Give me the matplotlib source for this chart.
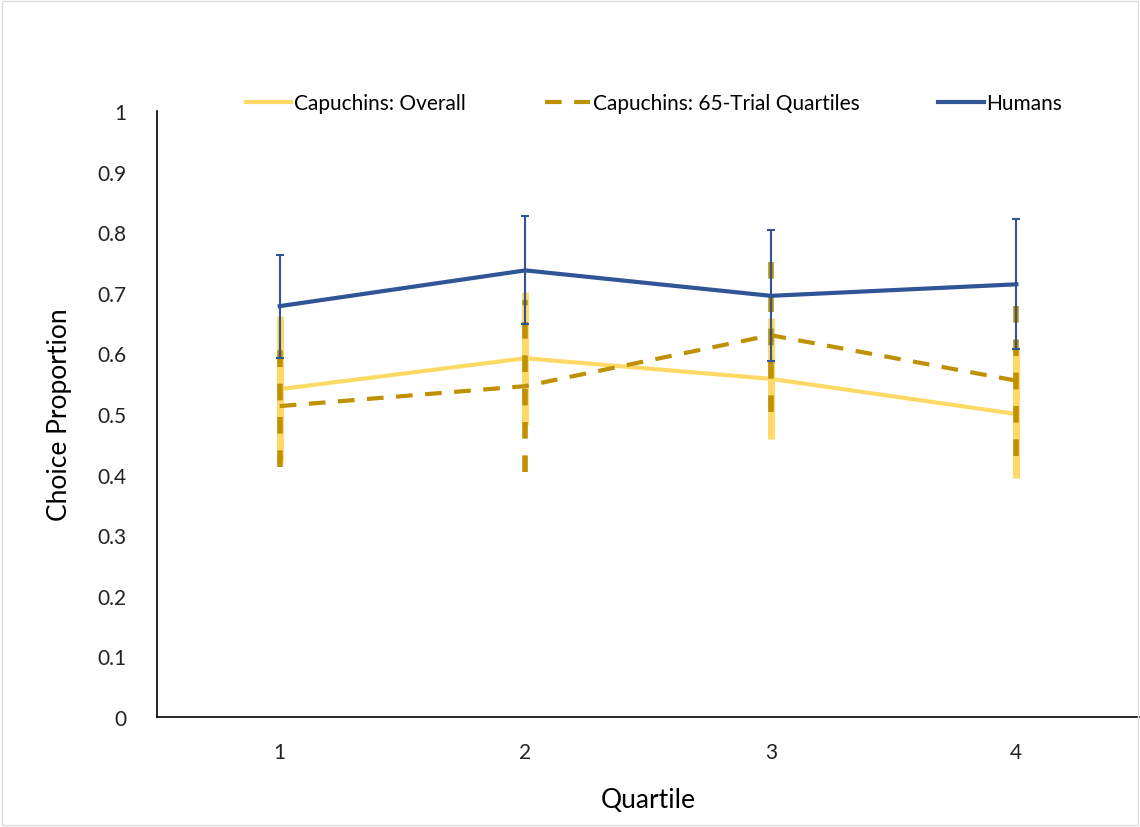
import matplotlib.pyplot as plt
from matplotlib.patches import Rectangle

quartiles = [1, 2, 3, 4]
tick_labels = ["1", "2", "3", "4"]

overall = [0.541, 0.592, 0.558, 0.500]
overall_err = [0.12, 0.11, 0.10, 0.105]

trial65 = [0.513, 0.546, 0.630, 0.555]
trial65_err = [0.10, 0.142, 0.127, 0.124]

humans = [0.678, 0.737, 0.695, 0.714]
humans_err = [0.085, 0.089, 0.108, 0.107]

plt.rcParams['font.family'] = ['Lato', 'DejaVu Sans']

fig = plt.figure(figsize=(11.4, 8.28), dpi=100)
ax = fig.add_axes([0.1377, 0.1329, 0.8615, 0.7318])

# capuchins overall
ax.errorbar(quartiles, overall, yerr=overall_err, color="#FFD966",
            lw=3, elinewidth=5, capsize=0, zorder=2,
            label="Capuchins: Overall")

# 65-trial quartiles (dashed)
eb2 = ax.errorbar(quartiles, trial65, yerr=trial65_err, color="#BF9000",
                  lw=3, ls=(0, (4, 3)), elinewidth=4, capsize=0, zorder=3,
                  label="Capuchins: 65-Trial Quartiles")
eb2[2][0].set_linestyle((0, (3, 3)))

# humans
ax.errorbar(quartiles, humans, yerr=humans_err, color="#2F5597",
            lw=3, elinewidth=1.5, capsize=3, capthick=1.5, zorder=4,
            label="Humans")

ax.set_xlim(0.5, 4.5)
ax.set_ylim(0, 1)
ax.set_yticks([0, 0.1, 0.2, 0.3, 0.4, 0.5, 0.6, 0.7, 0.8, 0.9, 1])
ax.set_yticklabels(["0", "0.1", "0.2", "0.3", "0.4", "0.5", "0.6", "0.7", "0.8", "0.9", "1"])
ax.set_xticks(quartiles)
ax.set_xticklabels(tick_labels)
ax.tick_params(length=0, labelsize=15, colors="#222222")
ax.tick_params(axis="x", pad=18)
ax.tick_params(axis="y", pad=22)

for s in ["top", "right"]:
    ax.spines[s].set_visible(False)
ax.spines["left"].set_linewidth(1.2)
ax.spines["bottom"].set_linewidth(1.2)

ax.set_xlabel("Quartile", fontsize=19, labelpad=18)
ax.set_ylabel("Choice Proportion", fontsize=19, labelpad=18)

handles, labels = ax.get_legend_handles_labels()
handles = [h[0] for h in handles]
ax.legend(handles, labels, loc="center", bbox_to_anchor=(0.506, 1.013),
          ncol=3, frameon=False, fontsize=15, handlelength=2.2,
          handletextpad=0.1, columnspacing=3.8)

fig.patches.append(Rectangle((0.002, 0.002), 0.996, 0.996, transform=fig.transFigure,
                             fill=False, edgecolor="#dddddd", lw=1))

fig.savefig("out.png", dpi=100)
